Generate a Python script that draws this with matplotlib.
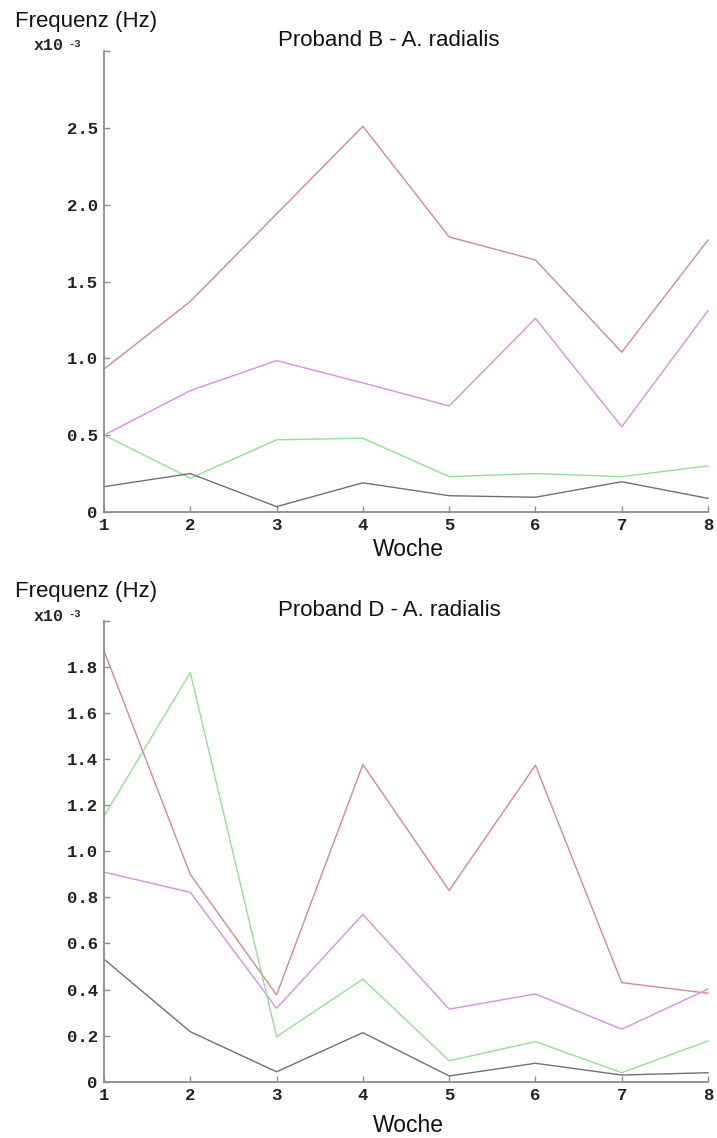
import matplotlib
matplotlib.use("Agg")
import matplotlib.pyplot as plt

# ---- data (frequency in units of 1e-3 Hz) ----
weeks = [1, 2, 3, 4, 5, 6, 7, 8]

b_red = [0.93, 1.37, 1.94, 2.51, 1.79, 1.64, 1.04, 1.77]
b_magenta = [0.50, 0.79, 0.985, 0.84, 0.69, 1.26, 0.555, 1.31]
b_green = [0.50, 0.22, 0.47, 0.48, 0.23, 0.25, 0.23, 0.30]
b_gray = [0.165, 0.25, 0.035, 0.19, 0.106, 0.096, 0.197, 0.089]

d_red = [1.87, 0.90, 0.377, 1.377, 0.83, 1.374, 0.43, 0.384]
d_magenta = [0.91, 0.822, 0.319, 0.726, 0.315, 0.381, 0.228, 0.402]
d_green = [1.152, 1.776, 0.196, 0.445, 0.091, 0.174, 0.039, 0.177]
d_gray = [0.532, 0.217, 0.043, 0.213, 0.025, 0.08, 0.029, 0.039]

b_yticks = [0, 0.5, 1.0, 1.5, 2.0, 2.5, 3.0]
b_ylabels = ["0", "0.5", "1.0", "1.5", "2.0", "2.5", ""]
d_yticks = [0, 0.2, 0.4, 0.6, 0.8, 1.0, 1.2, 1.4, 1.6, 1.8, 2.0]
d_ylabels = ["0", "0.2", "0.4", "0.6", "0.8", "1.0", "1.2", "1.4", "1.6", "1.8", ""]
xlabels = ["1", "2", "3", "4", "5", "6", "7", "8"]

titles = ["Proband B - A. radialis", "Proband D - A. radialis"]

# ---- styling ----
W, H = 717, 1138
C_RED = "#d38a8b"
C_MAG = "#d890e0"
C_GRN = "#92e092"
C_GRY = "#707070"
C_AX = "#8c8c8c"
SANS = "Liberation Sans"
MONO = "Liberation Mono"

fig = plt.figure(figsize=(W / 100, H / 100), dpi=100)


def fx(px):
    return px / W


def fy(py):
    return 1 - py / H


def make_axes(top_px, bottom_px):
    left, right = 104, 708
    return fig.add_axes([fx(left), fy(bottom_px), (right - left) / W,
                         (bottom_px - top_px) / H])


def style(ax, yticks, ylabels, ymax):
    ax.set_xlim(1, 8)
    ax.set_ylim(0, ymax)
    for s in ("top", "right"):
        ax.spines[s].set_visible(False)
    for s in ("left", "bottom"):
        ax.spines[s].set_color(C_AX)
        ax.spines[s].set_linewidth(1.3)
    ax.set_xticks(weeks)
    ax.set_xticklabels(xlabels)
    ax.set_yticks(yticks)
    ax.set_yticklabels(ylabels)
    ax.tick_params(direction="in", length=4, width=1.0, color=C_AX,
                   labelsize=12.5, pad=4.5)
    for lab in ax.get_xticklabels() + ax.get_yticklabels():
        lab.set_fontfamily(MONO)
        lab.set_fontweight("bold")
        lab.set_color("#222222")


panels = [
    (51, 512, (b_red, b_magenta, b_green, b_gray), b_yticks, b_ylabels, 3.0),
    (621, 1081.7, (d_red, d_magenta, d_green, d_gray), d_yticks, d_ylabels, 2.0),
]

for i, (top, bot, series, yt, yl, ymax) in enumerate(panels):
    ax = make_axes(top, bot)
    red, mag, grn, gry = series
    ax.plot(weeks, red, color=C_RED, lw=1.0, clip_on=False)
    ax.plot(weeks, mag, color=C_MAG, lw=1.0, clip_on=False)
    ax.plot(weeks, grn, color=C_GRN, lw=1.0, clip_on=False)
    ax.plot(weeks, gry, color=C_GRY, lw=1.0, clip_on=False)
    style(ax, yt, yl, ymax)

    off = 0 if i == 0 else 570
    fig.text(fx(15), fy(22 + off), "Frequenz (Hz)", family=SANS, fontsize=16,
             ha="left", va="center", color="#111111")
    fig.text(fx(34), fy(38.5 + off), "x10", family=MONO, fontweight="bold",
             fontsize=12, ha="left", va="top", color="#222222")
    fig.text(fx(68), fy(39 + off), "-3", family=MONO, fontweight="bold",
             fontsize=7.5, ha="left", va="top", color="#222222")
    fig.text(fx(389), fy(40 + off), titles[i], family=SANS, fontsize=16,
             ha="center", va="center", color="#111111")
    fig.text(fx(408), fy(550 + off + (5 if i else 0)), "Woche", family=SANS,
             fontsize=16.5, ha="center", va="center", color="#111111")

fig.savefig("out.png", dpi=100, facecolor="white")
